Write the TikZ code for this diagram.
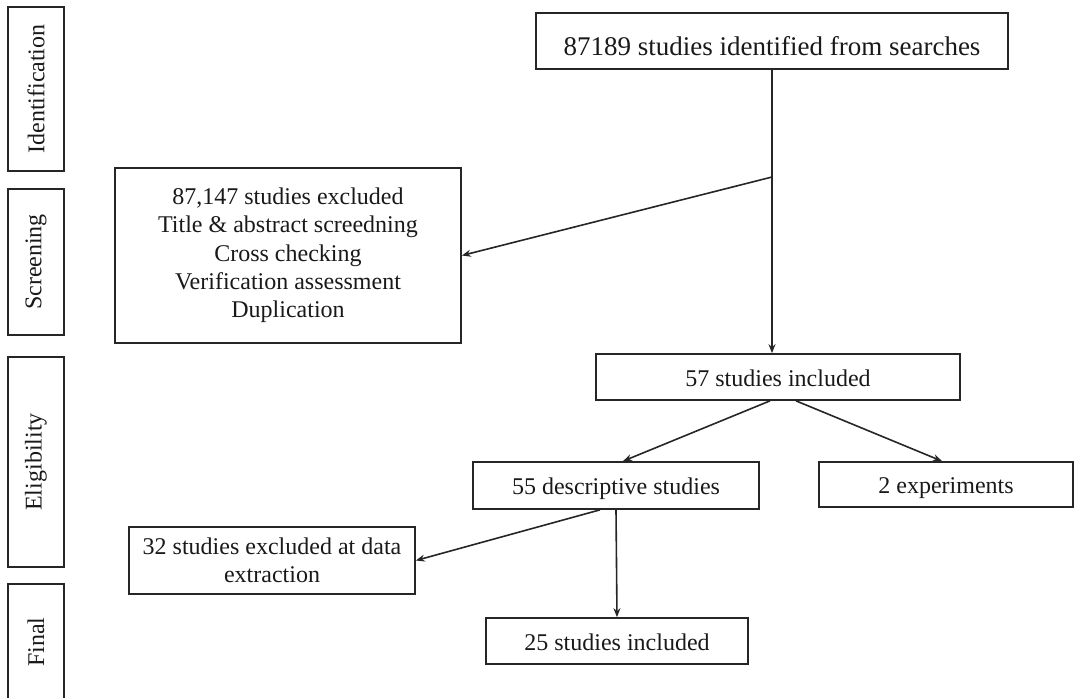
\documentclass[tikz,border=0pt]{standalone}
\usepackage{fontspec}
\setmainfont{Liberation Serif}
\usetikzlibrary{arrows.meta,calc}
\tikzset{
  box/.style={draw=black!85, line width=1.7pt, inner sep=0pt, align=center, text=black!90,
    font=\fontsize{24}{28.3}\selectfont},
  oneline/.style={text height=22pt, text depth=4pt},
  phase/.style={box},
  conn/.style={draw=black!85, line width=1.6pt, -{Stealth[length=9pt,width=7pt]}}
}
\begin{document}
\begin{tikzpicture}[x=1pt,y=-1pt]
\useasboundingbox (0,0) rectangle (1074,697);
% phase boxes
\node[phase, minimum width=56, minimum height=164] (pid) at (36,89) {\rotatebox{90}{Identification}};
\node[phase, minimum width=56, minimum height=146] (pscr) at (36,262) {\rotatebox{90}{Screening}};
\node[phase, minimum width=56, minimum height=210] (pel) at (36,462) {\rotatebox{90}{Eligibility}};
\node[phase, minimum width=56, minimum height=116] (pfin) at (36,642) {\rotatebox{90}{Final}};
% main boxes
\node[box, text height=30pt, text depth=2pt, minimum width=472, minimum height=56, font=\fontsize{27}{30}\selectfont] (top) at (772,41) {87189 studies identified from searches};
\node[box, minimum width=346, minimum height=175] (excl) at (288,255.5) {87,147 studies excluded\\Title \& abstract screedning\\Cross checking\\Verification assessment\\Duplication};
\node[box, oneline, minimum width=364, minimum height=46] (n57) at (778,377) {57 studies included};
\node[box, oneline, minimum width=286, minimum height=47] (n55) at (616,485.5) {55 descriptive studies};
\node[box, oneline, minimum width=254, minimum height=45] (n2) at (946,484.5) {2 experiments};
\node[box, minimum width=286, minimum height=67] (n32) at (272,560.5) {32 studies excluded at data\\extraction};
\node[box, oneline, minimum width=262, minimum height=46] (n25) at (617,641) {25 studies included};
% connectors
\coordinate (br) at (772,177);
\draw[conn] (top.south) -- (top.south |- n57.north);
\draw[draw=black!85, line width=2.6pt] (top.south) -- ++(0,11);
\draw[conn] (br) -- (excl.east);
\draw[conn] ([xshift=-8]n57.south) -- ([xshift=7]n55.north);
\draw[conn] ([xshift=18]n57.south) -- ([xshift=-4]n2.north);
\draw[conn] ([xshift=-16]n55.south) -- (n32.east);
\draw[conn] (n55.south) -- (n25.north);
\end{tikzpicture}
\end{document}
